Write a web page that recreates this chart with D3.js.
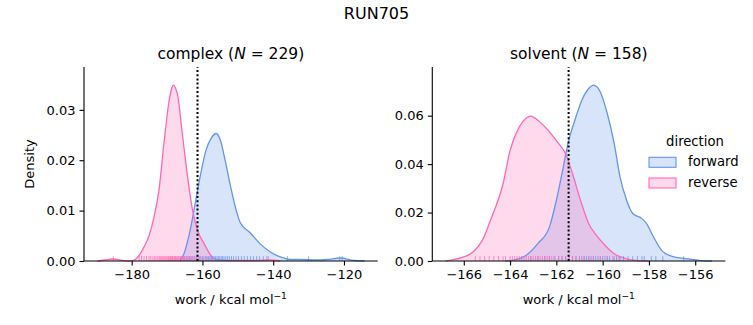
<!DOCTYPE html>
<html>
<head>
<meta charset="utf-8">
<script src="https://cdn.jsdelivr.net/npm/d3@7"></script>
<style>
  html, body { margin: 0; padding: 0; background: #fff; }
  svg { display: block; font-family: "DejaVu Sans", sans-serif; }
</style>
</head>
<body>
<svg id="chart" width="753" height="325"></svg>
<script>
// ---------------- DATA ----------------
const suptitle = "RUN705";
const directions = ["forward", "reverse"];
const colors = { forward: "#6495ED", reverse: "#FF69B4" };

const complexTitle = { name: "complex", N: 229 };
const solventTitle = { name: "solvent", N: 158 };

const complexXTicks = [-180, -160, -140, -120];
const complexYTicks = [0.00, 0.01, 0.02, 0.03];
const solventXTicks = [-166, -164, -162, -160, -158, -156];
const solventYTicks = [0.00, 0.02, 0.04, 0.06];

const complexXDomain = [-193.48, -110.47];
const complexYMax = 0.0385;
const solventXDomain = [-167.36, -154.70];
const solventYMax = 0.0801;

const complexEstimate = -161.4;
const solventEstimate = -161.47;

// KDE curves: [work, density]
const complexForwardKde = [
  [-166.4, 0.0000], [-165.2, 0.0015], [-163.3, 0.0067], [-161.9, 0.0120], [-160.5, 0.0173],
  [-159.0, 0.0220], [-157.6, 0.0243], [-156.1, 0.0253], [-154.9, 0.0239], [-153.6, 0.0200],
  [-152.2, 0.0153], [-150.7, 0.0107], [-149.3, 0.0076], [-146.5, 0.0056], [-143.7, 0.0034],
  [-140.8, 0.0018], [-138.0, 0.0008], [-135.2, 0.0003], [-132.3, 0.0003], [-128.0, 0.0002],
  [-124.8, 0.0003], [-121.0, 0.0006], [-117.2, 0.0001], [-114.2, 0.0000]
];
const complexReverseKde = [
  [-189.7, 0.0000], [-187.5, 0.0002], [-185.2, 0.0004], [-183.3, 0.0002], [-181.0, 0.0000],
  [-179.3, 0.0002], [-177.8, 0.0012], [-176.5, 0.0028], [-175.0, 0.0052], [-173.7, 0.0087],
  [-172.3, 0.0140], [-170.9, 0.0233], [-169.4, 0.0319], [-168.6, 0.0345], [-168.2, 0.0349],
  [-167.6, 0.0343], [-167.1, 0.0332], [-165.7, 0.0253], [-164.2, 0.0167], [-162.8, 0.0101],
  [-161.4, 0.0061], [-159.5, 0.0034], [-157.6, 0.0011], [-155.7, 0.0002], [-150.0, 0.0001],
  [-145.0, 0.0001], [-141.2, 0.0002], [-138.0, 0.0000]
];
const solventForwardKde = [
  [-164.2, 0.0000], [-163.9, 0.0003], [-163.3, 0.0024], [-162.8, 0.0072], [-162.3, 0.0140],
  [-162.0, 0.0250], [-161.7, 0.0388], [-161.5, 0.0485], [-161.2, 0.0581], [-160.9, 0.0664],
  [-160.6, 0.0712], [-160.4, 0.0726], [-160.1, 0.0698], [-159.8, 0.0609], [-159.5, 0.0485],
  [-159.25, 0.0347], [-158.96, 0.0250], [-158.7, 0.0196], [-158.3, 0.0175], [-158.1, 0.0154],
  [-157.8, 0.0099], [-157.45, 0.0044], [-157.0, 0.0019], [-156.4, 0.0010], [-155.85, 0.0003],
  [-155.28, 0.0000]
];
const solventReverseKde = [
  [-166.78, 0.0000], [-166.5, 0.0005], [-166.1, 0.0014], [-165.6, 0.0037], [-165.2, 0.0085],
  [-164.8, 0.0180], [-164.3, 0.0320], [-164.0, 0.0457], [-163.6, 0.0554], [-163.3, 0.0590],
  [-163.1, 0.0598], [-162.8, 0.0581], [-162.3, 0.0533], [-161.9, 0.0485], [-161.6, 0.0443],
  [-161.3, 0.0360], [-161.0, 0.0264], [-160.6, 0.0154], [-160.3, 0.0110], [-159.9, 0.0065],
  [-159.5, 0.0030], [-159.0, 0.0010], [-158.6, 0.0003], [-158.0, 0.0000]
];

// Rug samples
const complexForwardRug = [
  -166.1, -165.2, -164.4, -163.7, -163.0, -162.4, -161.8, -161.2, -160.6, -160.1,
  -159.6, -159.1, -158.7, -158.3, -157.9, -157.5, -157.1, -156.7, -156.3, -155.9,
  -155.5, -155.1, -154.7, -154.3, -153.9, -153.4, -152.9, -152.4, -151.8, -151.2,
  -150.5, -149.8, -149.0, -148.2, -147.3, -146.4, -145.6, -144.7, -143.9, -142.8,
  -141.8, -136.0, -130.0, -121.2, -120.5
];
const complexReverseRug = [
  -185.2, -177.9, -177.2, -176.5, -175.8, -175.1, -174.6, -174.0, -173.5, -173.1,
  -172.6, -172.2, -171.9, -171.5, -171.2, -170.9, -170.6, -170.3, -170.0, -169.7,
  -169.5, -169.2, -169.0, -168.7, -168.5, -168.3, -168.0, -167.8, -167.6, -167.3,
  -167.1, -166.8, -166.6, -166.3, -166.0, -165.7, -165.4, -165.1, -164.7, -164.3,
  -163.9, -163.4, -162.9, -162.3, -161.6, -160.8, -159.9, -158.8, -157.6, -141.4
];
const solventForwardRug = [
  -163.5, -163.1, -162.8, -162.5, -162.3, -162.1, -161.9, -161.75, -161.6, -161.45,
  -161.3, -161.15, -161.0, -160.9, -160.8, -160.7, -160.6, -160.5, -160.4, -160.3,
  -160.2, -160.1, -160.0, -159.9, -159.8, -159.7, -159.55, -159.4, -159.25, -159.1,
  -158.9, -158.7, -158.5, -158.3, -158.2, -157.9, -157.7, -157.4, -156.5
];
const solventReverseRug = [
  -165.5, -165.3, -165.1, -164.9, -164.7, -164.5, -164.3, -164.2, -164.0, -163.9,
  -163.8, -163.7, -163.6, -163.5, -163.4, -163.3, -163.2, -163.1, -163.0, -162.9,
  -162.8, -162.7, -162.6, -162.5, -162.4, -162.3, -162.2, -162.05, -161.9, -161.75,
  -161.6, -161.45, -161.3, -161.15, -161.0, -160.8, -160.6, -160.4, -160.1, -159.8,
  -159.5, -159.3
];

// ---------------- DRAW ----------------
const svg = d3.select("#chart");
const TICK_FS = 13, TITLE_FS = 15.5;

svg.append("text").attr("x", 376.5).attr("y", 19)
  .attr("text-anchor", "middle").attr("font-size", 16).text(suptitle);

function panel(cfg) {
  const { left, right, top, bottom } = cfg;
  const x = d3.scaleLinear().domain(cfg.xDomain).range([left, right]);
  const y = d3.scaleLinear().domain([0, cfg.yMax]).range([bottom, top]);
  const g = svg.append("g");

  const area = d3.area().x(d => x(d[0])).y0(y(0)).y1(d => y(d[1])).curve(d3.curveMonotoneX);
  const line = d3.line().x(d => x(d[0])).y(d => y(d[1])).curve(d3.curveMonotoneX);

  const series = [
    { key: "forward", kde: cfg.fwdKde, rug: cfg.fwdRug },
    { key: "reverse", kde: cfg.revKde, rug: cfg.revRug }
  ];
  series.forEach(s => {
    g.append("path").attr("d", area(s.kde))
      .attr("fill", colors[s.key]).attr("fill-opacity", 0.25).attr("stroke", "none");
  });
  series.forEach(s => {
    g.append("path").attr("d", line(s.kde))
      .attr("fill", "none").attr("stroke", colors[s.key]).attr("stroke-width", 1.3);
  });
  const rugH = (bottom - top) * 0.025;
  series.forEach(s => {
    g.selectAll(null).data(s.rug).enter().append("line")
      .attr("x1", d => x(d)).attr("x2", d => x(d))
      .attr("y1", bottom).attr("y2", bottom - rugH)
      .attr("stroke", colors[s.key]).attr("stroke-opacity", 0.75).attr("stroke-width", 1);
  });

  // estimate line
  g.append("line").attr("x1", x(cfg.estimate)).attr("x2", x(cfg.estimate))
    .attr("y1", bottom).attr("y2", top)
    .attr("stroke", "#000").attr("stroke-width", 2).attr("stroke-dasharray", "2 2.2");

  // axes
  const xAxis = d3.axisBottom(x).tickValues(cfg.xTicks).tickSize(4.5).tickPadding(4)
    .tickFormat(d3.format("d"));
  const yAxis = d3.axisLeft(y).tickValues(cfg.yTicks).tickSize(4.5).tickPadding(4)
    .tickFormat(d3.format(".2f"));
  const gx = g.append("g").attr("transform", `translate(0,${bottom})`).call(xAxis);
  const gy = g.append("g").attr("transform", `translate(${left},0)`).call(yAxis);
  [gx, gy].forEach(a => {
    a.select(".domain").attr("stroke", "#000").attr("stroke-width", 1.1);
    a.selectAll(".tick line").attr("stroke", "#000").attr("stroke-width", 1.1);
    a.selectAll(".tick text").attr("font-size", TICK_FS).attr("fill", "#000")
      .attr("font-family", "DejaVu Sans");
  });
  gx.select(".domain").attr("d", `M${left},0H${right}`);
  gy.select(".domain").attr("d", `M0,${bottom}V${top}`);

  // x label
  const xl = g.append("text").attr("x", (left + right) / 2).attr("y", 304)
    .attr("text-anchor", "middle").attr("font-size", TICK_FS);
  xl.append("tspan").text("work / kcal mol");
  xl.append("tspan").attr("font-size", TICK_FS * 0.7).attr("dy", -5).text("\u22121");

  if (cfg.ylabel) {
    g.append("text").attr("transform", `translate(34.3,${(top + bottom) / 2}) rotate(-90)`)
      .attr("text-anchor", "middle").attr("font-size", TICK_FS).text(cfg.ylabel);
  }

  // title
  const t = g.append("text").attr("x", (left + right) / 2).attr("y", 59)
    .attr("text-anchor", "middle").attr("font-size", TITLE_FS);
  t.append("tspan").text(cfg.title.name + " (");
  t.append("tspan").attr("font-style", "italic").text("N");
  t.append("tspan").text(" = " + cfg.title.N + ")");
}

panel({
  left: 84, right: 377.7, top: 67, bottom: 261,
  xDomain: complexXDomain, yMax: complexYMax,
  xTicks: complexXTicks, yTicks: complexYTicks,
  fwdKde: complexForwardKde, revKde: complexReverseKde,
  fwdRug: complexForwardRug, revRug: complexReverseRug,
  estimate: complexEstimate, title: complexTitle, ylabel: "Density"
});
panel({
  left: 432.3, right: 725.3, top: 67, bottom: 261,
  xDomain: solventXDomain, yMax: solventYMax,
  xTicks: solventXTicks, yTicks: solventYTicks,
  fwdKde: solventForwardKde, revKde: solventReverseKde,
  fwdRug: solventForwardRug, revRug: solventReverseRug,
  estimate: solventEstimate, title: solventTitle, ylabel: null
});

// legend
const lg = svg.append("g");
lg.append("text").attr("x", 695).attr("y", 146).attr("text-anchor", "middle")
  .attr("font-size", 13.2).text("direction");
directions.forEach((d, i) => {
  const yTop = 157.3 + i * 20.7;
  lg.append("rect").attr("x", 649).attr("y", yTop).attr("width", 27).attr("height", 10)
    .attr("fill", colors[d]).attr("fill-opacity", 0.25)
    .attr("stroke", colors[d]).attr("stroke-width", 1.1);
  lg.append("text").attr("x", 688).attr("y", 166.3 + i * 20.7)
    .attr("font-size", 13.2).text(d);
});
</script>
</body>
</html>
